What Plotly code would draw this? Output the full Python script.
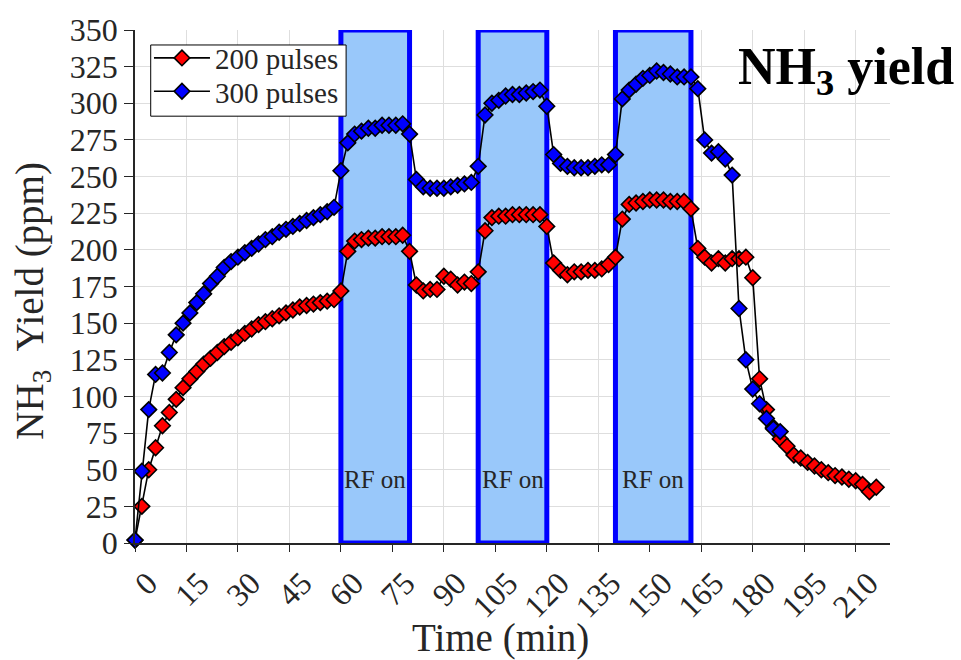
import numpy as np
import plotly.graph_objects as go

# Sampling: one reading every 2 minutes
STEP_MIN = 2

yield_200 = [2, 25, 50, 65, 80, 89, 98, 106, 112, 117, 122, 126, 130, 134, 137, 140,
             143, 146, 149, 151, 153, 155, 157, 159, 161, 162, 163, 164, 165, 166,
             172, 199, 206, 207, 208, 208, 209, 209, 209, 210,
             199, 176, 172, 173, 173, 182, 180, 176, 178, 177,
             185, 213, 222, 223, 223, 224, 224, 224, 224, 224,
             216, 191, 186, 183, 185, 185, 186, 186, 187, 190,
             195, 221, 231, 232, 233, 234, 234, 234, 233, 233, 233,
             228, 201, 195, 191, 194, 191, 194, 194, 195, 181,
             112, 91, 79, 71, 66, 60, 58, 55, 52.5, 50, 48, 46, 45, 43.5, 42.5, 40, 35, 38]

yield_300 = [2, 49, 91, 115, 116, 130, 142, 150, 157, 164, 170, 177, 182, 188, 192, 195,
             198, 201, 204, 207, 209, 212, 214, 216, 218, 220, 222, 224, 226, 229,
             254, 273, 279, 281, 283, 283, 285, 285, 285, 286,
             279, 248, 243, 242, 242, 242, 243, 244, 245, 246,
             257, 292, 300, 302, 305, 306, 306, 307, 308, 309,
             298, 265, 259, 257, 256, 256, 256, 257, 258, 258,
             265, 303, 309, 313, 317, 319, 322, 321, 320, 318, 318,
             318, 310, 275, 266, 267, 262, 251, 160, 125, 105, 95, 85, 78, 76]

time_200 = np.arange(len(yield_200)) * STEP_MIN
time_300 = np.arange(len(yield_300)) * STEP_MIN

# RF discharge intervals (min)
rf_start = [60, 100, 140]
rf_end = [80, 120, 162]

x_ticks = list(range(0, 211, 15))
y_ticks = list(range(0, 351, 25))

FONT = "Liberation Serif"
INK = "#262626"

fig = go.Figure()

series = [("200 pulses", time_200, yield_200, "#ff0000", "legend"),
          ("300 pulses", time_300, yield_300, "#0000ff", "legend2")]
for name, t, y, color, leg in series:
    fig.add_trace(go.Scatter(
        x=t, y=y, name=name, mode="lines+markers", legend=leg,
        line=dict(color="black", width=1.6),
        marker=dict(symbol="diamond", size=12, color=color,
                    line=dict(color="black", width=1.6)),
        cliponaxis=False,
    ))

for s, e in zip(rf_start, rf_end):
    fig.add_shape(type="rect", xref="x", yref="y", x0=s, x1=e, y0=0, y1=350,
                  fillcolor="#99c8fa", line=dict(color="#0000ff", width=5),
                  layer="between")
    fig.add_annotation(x=(s + e) / 2, y=43, xref="x", yref="y", text="RF on",
                       showarrow=False, font=dict(family=FONT, size=25, color=INK))

# shared frame behind the two single-entry legends
fig.add_shape(type="rect", xref="paper", yref="paper",
              x0=0.0208, x1=0.2796, y0=0.832, y1=0.9708,
              fillcolor="white", line=dict(color="black", width=1), layer="above")

fig.add_annotation(x=1.087, y=0.922, xref="paper", yref="paper",
                   xanchor="right", yanchor="middle", showarrow=False,
                   text="<b>NH<sub>3</sub> yield</b>",
                   font=dict(family=FONT, size=52, color="black"))

# axis titles
fig.add_annotation(x=0.4837, y=-0.186, xref="paper", yref="paper",
                   xanchor="center", yanchor="middle", showarrow=False,
                   text="Time (min)", font=dict(family=FONT, size=39, color=INK))
fig.add_annotation(x=-0.136, y=0.473, xref="paper", yref="paper",
                   xanchor="center", yanchor="middle", showarrow=False, textangle=-90,
                   text="NH<sub>3</sub>  Yield (ppm)", font=dict(family=FONT, size=39, color=INK))

legend_common = dict(xanchor="left", yanchor="top", bgcolor="rgba(0,0,0,0)",
                     borderwidth=0, font=dict(family=FONT, size=29, color=INK),
                     itemwidth=56)
fig.update_layout(
    width=961, height=660,
    margin=dict(l=135, r=71, t=22, b=117),
    paper_bgcolor="white", plot_bgcolor="white",
    font=dict(family=FONT, color=INK),
    showlegend=True,
    legend=dict(x=0.0185, y=0.995, **legend_common),
    legend2=dict(x=0.0185, y=0.93, **legend_common),
)

fig.update_xaxes(
    range=[0, 220], tickvals=x_ticks, ticktext=[str(v) for v in x_ticks],
    tickangle=-45, tickfont=dict(family=FONT, size=32, color=INK),
    ticklabelshift=13,
    ticks="outside", ticklen=7, tickcolor=INK, tickwidth=1.2,
    showline=True, linecolor=INK, linewidth=1.5,
    showgrid=True, gridcolor="#dedede", gridwidth=1, zeroline=False,
)
fig.update_yaxes(
    range=[0, 350], tickvals=y_ticks,
    tickfont=dict(family=FONT, size=32, color=INK),
    ticks="outside", ticklen=9, tickcolor=INK, tickwidth=1.2,
    showline=True, linecolor=INK, linewidth=1.5,
    showgrid=True, gridcolor="#dedede", gridwidth=1, zeroline=False,
)

fig.write_html("out.html")
